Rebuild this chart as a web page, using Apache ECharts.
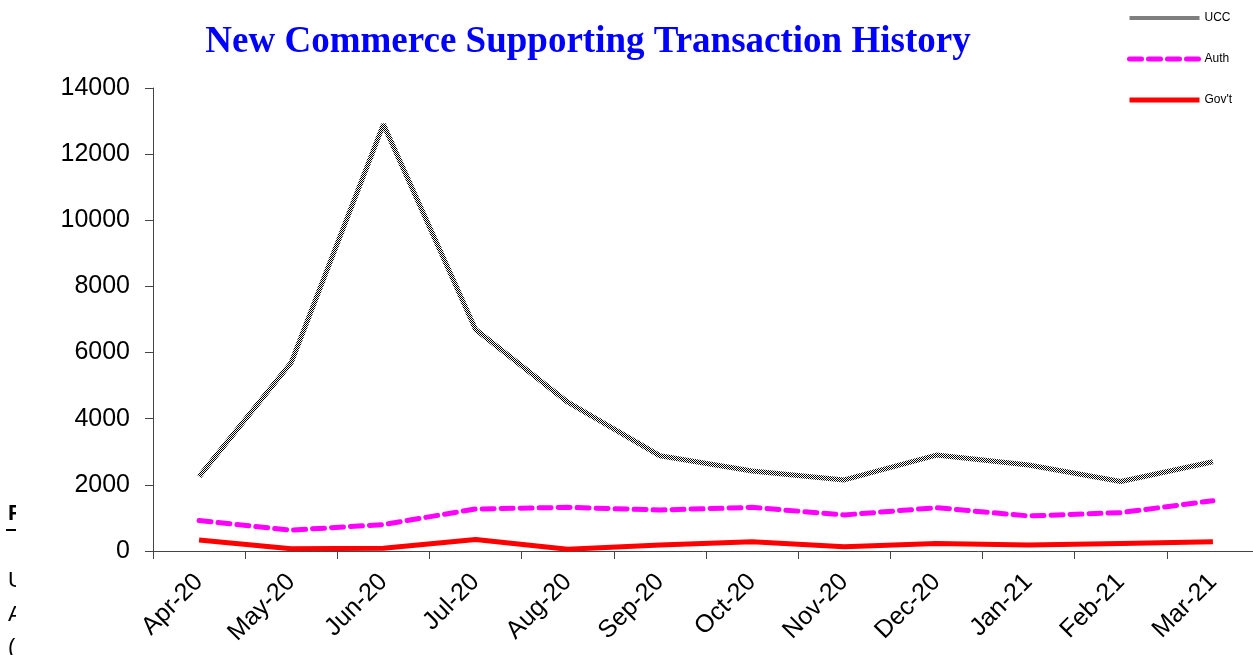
<!DOCTYPE html>
<html>
<head>
<meta charset="utf-8">
<script src="https://cdn.jsdelivr.net/npm/echarts@6/dist/echarts.min.js"></script>
<style>
  html, body { margin: 0; padding: 0; background: #fff; }
  #grafico { width: 1253px; height: 655px; }
</style>
</head>
<body>
<div id="grafico"></div>
<script>
// datos
var meses = ['Apr-20', 'May-20', 'Jun-20', 'Jul-20', 'Aug-20', 'Sep-20', 'Oct-20', 'Nov-20', 'Dec-20', 'Jan-21', 'Feb-21', 'Mar-21'];
var ucc  = [2250, 5700, 12900, 6700, 4500, 2880, 2420, 2150, 2900, 2600, 2100, 2700];
var auth = [920, 630, 800, 1270, 1320, 1240, 1320, 1090, 1310, 1060, 1160, 1520];
var govt = [330, 70, 80, 350, 50, 180, 280, 130, 230, 180, 230, 280];

var color_negro = '#000000';
var color_magenta = '#ff00ff';
var color_rojo = '#ff0000';
var fuente = 'Liberation Sans, Arial, sans-serif';

// patron ajedrezado para la linea UCC
function patron_ajedrez() {
    var c = document.createElement('canvas');
    c.width = 2; c.height = 2;
    var ctx = c.getContext('2d');
    ctx.fillStyle = '#ffffff';
    ctx.fillRect(0, 0, 2, 2);
    ctx.fillStyle = color_negro;
    ctx.fillRect(0, 0, 1, 1);
    ctx.fillRect(1, 1, 1, 1);
    return c;
}
var ajedrez = { image: patron_ajedrez(), repeat: 'repeat' };

var chart = echarts.init(document.getElementById('grafico'));

var option = {
    animation: false,
    backgroundColor: '#ffffff',
    title: {
        text: 'New Commerce Supporting Transaction History',
        left: 583,
        textAlign: 'center',
        top: 19,
        textStyle: {
            color: '#0000ff',
            fontFamily: 'Liberation Serif, Times New Roman, serif',
            fontWeight: 'bold',
            fontSize: 37
        }
    },
    legend: {
        orient: 'vertical',
        left: 1122,
        top: 7,
        itemWidth: 70,
        itemHeight: 14,
        itemGap: 29,
        itemStyle: { opacity: 0 },
        textStyle: { fontFamily: fuente, fontSize: 12, color: '#000' },
        data: [
            { name: 'UCC', lineStyle: { width: 4, color: ajedrez } },
            { name: 'Auth', lineStyle: { width: 5, color: color_magenta, type: [12, 7], cap: 'round' } },
            { name: "Gov't", lineStyle: { width: 5, color: color_rojo } }
        ]
    },
    grid: {
        left: 153,
        top: 88,
        bottom: 104,
        width: 1106,
        containLabel: false,
        outerBoundsMode: 'none'
    },
    xAxis: {
        type: 'category',
        data: meses,
        boundaryGap: true,
        axisLine: { lineStyle: { color: '#444', width: 1 } },
        axisTick: { show: true, length: 8, lineStyle: { color: '#444' } },
        axisLabel: {
            rotate: 45,
            margin: 27,
            color: '#000',
            fontFamily: fuente,
            fontSize: 25,
            interval: 0
        }
    },
    yAxis: {
        type: 'value',
        min: 0,
        max: 14000,
        interval: 2000,
        splitLine: { show: false },
        axisLine: { show: true, lineStyle: { color: '#444', width: 1 } },
        axisTick: { show: true, length: 8, lineStyle: { color: '#444' } },
        axisLabel: {
            margin: 23,
            color: '#000',
            fontFamily: fuente,
            fontSize: 25,
            formatter: function(v) { return String(v); }
        }
    },
    series: [
        {
            name: 'UCC',
            type: 'line',
            symbol: 'none',
            data: ucc,
            lineStyle: { width: 5, color: ajedrez },
            itemStyle: { color: color_negro }
        },
        {
            name: 'Auth',
            type: 'line',
            symbol: 'none',
            data: auth,
            lineStyle: { width: 5, color: color_magenta, type: [12, 7], cap: 'round' },
            itemStyle: { color: color_magenta }
        },
        {
            name: "Gov't",
            type: 'line',
            symbol: 'none',
            data: govt,
            lineStyle: { width: 5, color: color_rojo },
            itemStyle: { color: color_rojo }
        }
    ],
    graphic: [
        // texto recortado de la diapositiva de fondo
        { type: 'text', left: 8, top: 503, z: 1, style: { text: 'F', fontFamily: fuente, fontWeight: 'bold', fontSize: 22, fill: '#000' } },
        { type: 'rect', shape: { x: 6, y: 529, width: 11, height: 2 }, z: 1, style: { fill: '#000' } },
        { type: 'text', left: 8, top: 570, z: 1, style: { text: 'U', fontFamily: fuente, fontSize: 22, fill: '#000' } },
        { type: 'text', left: 8, top: 604, z: 1, style: { text: 'A', fontFamily: fuente, fontSize: 22, fill: '#000' } },
        { type: 'text', left: 8, top: 637, z: 1, style: { text: '(', fontFamily: fuente, fontSize: 22, fill: '#000' } },
        { type: 'rect', shape: { x: 16, y: 495, width: 30, height: 160 }, z: 2, style: { fill: '#ffffff' } }
    ]
};

chart.setOption(option);
</script>
</body>
</html>
